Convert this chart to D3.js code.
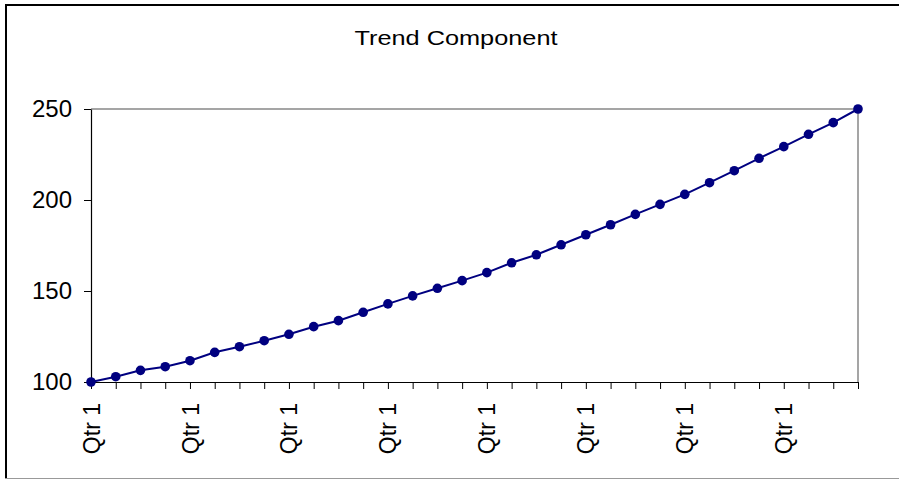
<!DOCTYPE html>
<html>
<head>
<meta charset="utf-8">
<script src="https://cdn.jsdelivr.net/npm/d3@7/dist/d3.min.js"></script>
<style>
  html, body { margin: 0; padding: 0; background: #fff; }
  svg { display: block; font-family: "Liberation Sans", Arial, sans-serif; }
</style>
</head>
<body>
<svg id="chart" width="899" height="480"></svg>
<script>
// Quarterly trend values, eight years of four quarters
const quarters = ["Qtr 1","Qtr 2","Qtr 3","Qtr 4"];
const trend = [
  100, 102.9, 106.4, 108.4, 111.7, 116.3, 119.4, 122.7,
  126.2, 130.4, 133.7, 138.3, 142.9, 147.3, 151.5, 155.7,
  160.1, 165.5, 169.9, 175.4, 180.9, 186.4, 192.1, 197.6,
  203.1, 209.5, 216.1, 222.9, 229.3, 236.1, 242.5, 250
];
const yTicks = [100, 150, 200, 250];
const title = "Trend Component";

const categories = trend.map((_, i) => i);
const labelOf = i => quarters[i % 4];

const svg = d3.select("#chart");
const W = 899, H = 480;
const m = { left: 91, right: 858, top: 109, bottom: 382 };
const font = "'Liberation Sans', Arial, sans-serif";

// outer chart frame
svg.append("line").attr("x1", 6).attr("x2", 6).attr("y1", 4).attr("y2", 479)
  .attr("stroke", "#000").attr("stroke-width", 2);
svg.append("line").attr("x1", 5).attr("x2", W).attr("y1", 5).attr("y2", 5)
  .attr("stroke", "#000").attr("stroke-width", 2);
svg.append("line").attr("x1", 5).attr("x2", W).attr("y1", 478.5).attr("y2", 478.5)
  .attr("stroke", "#999").attr("stroke-width", 1);

const x = d3.scalePoint().domain(categories).range([m.left, m.right]);
const y = d3.scaleLinear().domain([100, 250]).range([m.bottom, m.top]);

// plot area border (top and right in gray)
svg.append("path")
  .attr("d", `M${m.left},${m.top}H${m.right}V${m.bottom}`)
  .attr("fill", "none").attr("stroke", "#888").attr("stroke-width", 1.5);

// y axis
const yAxis = svg.append("g").attr("transform", `translate(${m.left},0)`)
  .call(d3.axisLeft(y).tickValues(yTicks).tickSize(7).tickPadding(12).tickSizeOuter(0));
yAxis.select(".domain").attr("stroke", "#000").attr("stroke-width", 1.2);
yAxis.selectAll(".tick line").attr("stroke", "#000");
yAxis.selectAll(".tick text").attr("font-size", 24).attr("fill", "#000")
  .attr("font-family", font);

// x axis: a tick at every quarter, labels only on the first quarter of each year
const xAxis = svg.append("g").attr("transform", `translate(0,${m.bottom})`)
  .call(d3.axisBottom(x).tickSize(7).tickSizeOuter(0)
    .tickFormat(i => i % 4 === 0 ? labelOf(i) : ""));
xAxis.select(".domain").attr("stroke", "#000").attr("stroke-width", 1.2);
xAxis.selectAll(".tick line").attr("stroke", "#000");
xAxis.selectAll(".tick text")
  .attr("font-size", 23).attr("fill", "#000")
  .attr("font-family", font)
  .attr("text-anchor", "end")
  .attr("dy", "0.35em")
  .attr("transform", "translate(0,21) rotate(-90)")
  .attr("x", 0).attr("y", 0);

// trend line with markers
const line = d3.line().x((d, i) => x(i)).y(d => y(d));
svg.append("path").datum(trend)
  .attr("d", line).attr("fill", "none")
  .attr("stroke", "#000080").attr("stroke-width", 2);
svg.append("g").selectAll("circle").data(trend).join("circle")
  .attr("cx", (d, i) => x(i)).attr("cy", d => y(d)).attr("r", 4.8)
  .attr("fill", "#000080");

// title
svg.append("text").attr("x", 456).attr("y", 45)
  .attr("text-anchor", "middle").attr("font-size", 21).attr("fill", "#000")
  .attr("font-family", font)
  .attr("textLength", 203).attr("lengthAdjust", "spacingAndGlyphs")
  .text(title);
</script>
</body>
</html>
